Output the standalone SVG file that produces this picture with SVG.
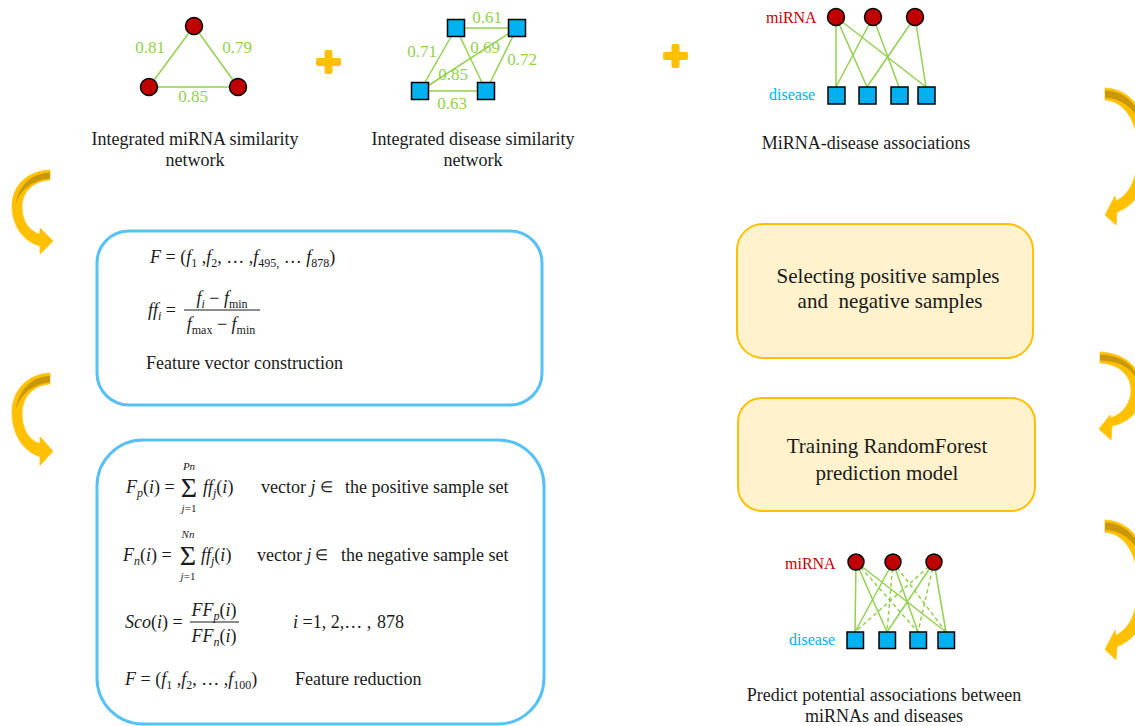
<svg xmlns="http://www.w3.org/2000/svg" width="1135" height="726" viewBox="0 0 1135 726">
<style>
.t{font-family:"Liberation Serif","Times New Roman",serif;font-size:18px;fill:#1a1a1a}
.i{font-style:italic}
.s{font-size:12px}
.sig{font-family:"Liberation Serif","Times New Roman",serif;font-size:28px;fill:#1a1a1a;text-anchor:middle}
.el{font-family:"Liberation Serif","Times New Roman",serif;font-size:15px;fill:#1a1a1a}
.ss{font-family:"Liberation Serif","Times New Roman",serif;font-size:11px;fill:#1a1a1a;font-style:italic;text-anchor:middle}
.lbl{font-family:"Liberation Serif","Times New Roman",serif;font-size:17px;fill:#92D050;text-anchor:middle}
.e{stroke:#92D050;stroke-width:1.5;fill:none}
.d{stroke-dasharray:4 3}
.c{fill:#C00000;stroke:#000;stroke-width:1.5}
.q{fill:#00B0F0;stroke:#000;stroke-width:1.5}
.bb{fill:none;stroke:#56C1F5;stroke-width:3}
.yb{fill:#FFF2CC;stroke:#FFC000;stroke-width:2}
.ar{fill:#FFC000;stroke:#FFC61A;stroke-width:0.8}
.ard{fill:#C9980A}
.mir{font-family:"Liberation Serif","Times New Roman",serif;font-size:16px;fill:#C00000}
.dis{font-family:"Liberation Serif","Times New Roman",serif;font-size:16px;fill:#00B0F0}
.cap{font-family:"Liberation Serif","Times New Roman",serif;font-size:18px;fill:#1a1a1a;text-anchor:middle}
.yt{font-family:"Liberation Serif","Times New Roman",serif;font-size:21px;fill:#1a1a1a;text-anchor:middle}
.plus{fill:#FFC000}
</style>

<!-- connectors -->
<g id="connectors">
  <line class="e" x1="194" y1="26" x2="149" y2="87"/>
  <line class="e" x1="194" y1="26" x2="238" y2="87"/>
  <line class="e" x1="149" y1="87" x2="238" y2="87"/>
  <line class="e" x1="456" y1="28" x2="517" y2="28"/>
  <line class="e" x1="456" y1="28" x2="420" y2="91"/>
  <line class="e" x1="456" y1="28" x2="486" y2="91"/>
  <line class="e" x1="517" y1="28" x2="420" y2="91"/>
  <line class="e" x1="517" y1="28" x2="486" y2="91"/>
  <line class="e" x1="420" y1="91" x2="486" y2="91"/>
  <line class="e" x1="836" y1="17" x2="836" y2="87"/>
  <line class="e" x1="836" y1="17" x2="867" y2="87"/>
  <line class="e" x1="836" y1="17" x2="926" y2="87"/>
  <line class="e" x1="873" y1="17" x2="836" y2="87"/>
  <line class="e" x1="873" y1="17" x2="899" y2="87"/>
  <line class="e" x1="915" y1="17" x2="867" y2="87"/>
  <line class="e" x1="915" y1="17" x2="926" y2="87"/>
  <line class="e" x1="856" y1="562" x2="855" y2="632"/>
  <line class="e" x1="856" y1="562" x2="887" y2="632"/>
  <line class="e" x1="856" y1="562" x2="946" y2="632"/>
  <line class="e" x1="893" y1="562" x2="855" y2="632"/>
  <line class="e" x1="893" y1="562" x2="918" y2="632"/>
  <line class="e" x1="934" y1="562" x2="887" y2="632"/>
  <line class="e" x1="934" y1="562" x2="946" y2="632"/>
  <line class="e d" x1="856" y1="562" x2="918" y2="632"/>
  <line class="e d" x1="893" y1="562" x2="887" y2="632"/>
  <line class="e d" x1="893" y1="562" x2="946" y2="632"/>
  <line class="e d" x1="934" y1="562" x2="855" y2="632"/>
  <line class="e d" x1="934" y1="562" x2="918" y2="632"/>
</g>

<g id="mirna-network">
  <circle class="c" cx="194" cy="26" r="8.5"/>
  <circle class="c" cx="149" cy="87" r="8.5"/>
  <circle class="c" cx="238" cy="87" r="8.5"/>
  <text class="lbl" x="150" y="53">0.81</text>
  <text class="lbl" x="237" y="53">0.79</text>
  <text class="lbl" x="193" y="102">0.85</text>
  <text class="cap" x="195" y="145">Integrated miRNA similarity</text>
  <text class="cap" x="195" y="166">network</text>
</g>

<g id="plus1"><rect class="plus" x="316" y="58" width="25" height="8" rx="2"/><rect class="plus" x="324.5" y="50" width="8" height="24" rx="2"/></g>

<g id="disease-network">
  <rect class="q" x="447.5" y="19.5" width="17" height="17"/>
  <rect class="q" x="508.5" y="19.5" width="17" height="17"/>
  <rect class="q" x="411.5" y="82.5" width="17" height="17"/>
  <rect class="q" x="477.5" y="82.5" width="17" height="17"/>
  <text class="lbl" x="487" y="23">0.61</text>
  <text class="lbl" x="422" y="57">0.71</text>
  <text class="lbl" x="485" y="53">0.69</text>
  <text class="lbl" x="522" y="65">0.72</text>
  <text class="lbl" x="453" y="80">0.85</text>
  <text class="lbl" x="452" y="109">0.63</text>
  <text class="cap" x="473" y="145">Integrated disease similarity</text>
  <text class="cap" x="473" y="166">network</text>
</g>

<g id="plus2"><rect class="plus" x="663" y="52" width="25" height="8" rx="2"/><rect class="plus" x="671.5" y="44" width="8" height="24" rx="2"/></g>

<g id="known-associations">
  <text class="mir" x="766" y="23">miRNA</text>
  <circle class="c" cx="836" cy="17" r="8.5"/>
  <circle class="c" cx="873" cy="17" r="8.5"/>
  <circle class="c" cx="915" cy="17" r="8.5"/>
  <text class="dis" x="769" y="100">disease</text>
  <rect class="q" x="828" y="87" width="17" height="17"/>
  <rect class="q" x="859" y="87" width="17" height="17"/>
  <rect class="q" x="891" y="87" width="17" height="17"/>
  <rect class="q" x="918" y="87" width="17" height="17"/>
  <text class="cap" x="866" y="149">MiRNA-disease associations</text>
</g>

<g id="arrow-left-1">
  <path class="ar" d="M50 170 C27 171 12 186 12 206 C12 226 24 242 40 246 L40 254 L53 241 L40 228 L40 234 C30 232 22 222 22 207 C22 192 33 181 50 180 Z"/>
  <path class="ard" d="M50 172.5 C31 173 17 187 15.5 206 C18 192 31 180 50 178.5 Z"/>
</g>
<g id="arrow-left-2" transform="translate(0,373) scale(1,1.1) translate(0,-170)">
  <path class="ar" d="M50 170 C27 171 12 186 12 206 C12 226 24 242 40 246 L40 254 L53 241 L40 228 L40 234 C30 232 22 222 22 207 C22 192 33 181 50 180 Z"/>
  <path class="ard" d="M50 172.5 C31 173 17 187 15.5 206 C18 192 31 180 50 178.5 Z"/>
</g>
<g id="arrow-right-1" transform="translate(1105,88)">
  <path class="ar" d="M0 0 C28 1 45 28 45 62 C45 95 32 117 12 124 L11 137 L0 127 L10 108 L11 113 C25 106 33 90 33 62 C33 35 20 13 0 12 Z"/>
  <path class="ard" d="M0 2.5 C22 3 37 20 40 46 C34 24 20 11 0 9.5 Z"/>
</g>
<g id="arrow-right-2" transform="translate(1100,352)">
  <path class="ar" d="M0 0 C25 1 42 16 42 38 C42 58 30 70 12 74 L11 88 L-1 77 L10 63 L11 66 C24 61 31 50 31 38 C31 24 20 12 0 11 Z"/>
  <path class="ard" d="M0 2.5 C22 3 36 14 38 30 C32 16 20 9 0 8.5 Z"/>
</g>
<g id="arrow-right-3" transform="translate(1105,520) scale(1,1.02)">
  <path class="ar" d="M0 0 C28 1 45 28 45 62 C45 95 32 117 12 124 L11 137 L0 127 L10 108 L11 113 C25 106 33 90 33 62 C33 35 20 13 0 12 Z"/>
  <path class="ard" d="M0 2.5 C22 3 37 20 40 46 C34 24 20 11 0 9.5 Z"/>
</g>

<g id="feature-construction">
  <rect class="bb" x="97" y="231" width="445" height="174" rx="32"/>
  <text class="t" x="150" y="263"><tspan class="i">F</tspan> = (<tspan class="i">f</tspan><tspan class="s" dy="4">1</tspan><tspan dy="-4"> ,</tspan><tspan class="i">f</tspan><tspan class="s" dy="4">2</tspan><tspan dy="-4">, … ,</tspan><tspan class="i">f</tspan><tspan class="s" dy="4">495,</tspan><tspan dy="-4"> … </tspan><tspan class="i">f</tspan><tspan class="s" dy="4">878</tspan><tspan dy="-4">)</tspan></text>
  <text class="t" x="148" y="316"><tspan class="i">ff</tspan><tspan class="s i" dy="4">i</tspan><tspan dy="-4"> =</tspan></text>
  <text class="t" x="222" y="304" text-anchor="middle"><tspan class="i">f</tspan><tspan class="s i" dy="4">i</tspan><tspan dy="-4"> − </tspan><tspan class="i">f</tspan><tspan class="s" dy="4">min</tspan></text>
  <line x1="184" y1="310" x2="260" y2="310" stroke="#1a1a1a" stroke-width="1"/>
  <text class="t" x="221" y="330" text-anchor="middle"><tspan class="i">f</tspan><tspan class="s" dy="4">max</tspan><tspan dy="-4"> − </tspan><tspan class="i">f</tspan><tspan class="s" dy="4">min</tspan></text>
  <text class="t" x="146" y="369">Feature vector construction</text>
</g>

<g id="feature-reduction">
  <rect class="bb" x="97" y="440" width="447" height="284" rx="46"/>
  <text class="t" x="126" y="493"><tspan class="i">F</tspan><tspan class="s i" dy="4">p</tspan><tspan dy="-4">(<tspan class="i">i</tspan>) =</tspan></text>
  <text class="sig" x="189" y="497">Σ</text>
  <text class="ss" x="189" y="470">Pn</text>
  <text class="ss" x="189" y="512">j<tspan font-style="normal">=1</tspan></text>
  <text class="t" x="203" y="493"><tspan class="i">ff</tspan><tspan class="s i" dy="4">j</tspan><tspan dy="-4">(<tspan class="i">i</tspan>)</tspan></text>
  <text class="t" x="261" y="493">vector <tspan class="i">j</tspan></text>
  <text class="el" x="320" y="492">∈</text>
  <text class="t" x="345" y="493">the positive sample set</text>

  <text class="t" x="123" y="561"><tspan class="i">F</tspan><tspan class="s i" dy="4">n</tspan><tspan dy="-4">(<tspan class="i">i</tspan>) =</tspan></text>
  <text class="sig" x="188" y="565">Σ</text>
  <text class="ss" x="188" y="538">Nn</text>
  <text class="ss" x="188" y="580">j<tspan font-style="normal">=1</tspan></text>
  <text class="t" x="201" y="561"><tspan class="i">ff</tspan><tspan class="s i" dy="4">j</tspan><tspan dy="-4">(<tspan class="i">i</tspan>)</tspan></text>
  <text class="t" x="257" y="561">vector <tspan class="i">j</tspan></text>
  <text class="el" x="315" y="560">∈</text>
  <text class="t" x="341" y="561">the negative sample set</text>

  <text class="t" x="125" y="628"><tspan class="i">Sco</tspan>(<tspan class="i">i</tspan>) =</text>
  <text class="t" x="214" y="616" text-anchor="middle"><tspan class="i">FF</tspan><tspan class="s i" dy="4">p</tspan><tspan dy="-4">(<tspan class="i">i</tspan>)</tspan></text>
  <line x1="190" y1="622" x2="239" y2="622" stroke="#1a1a1a" stroke-width="1"/>
  <text class="t" x="214" y="642" text-anchor="middle"><tspan class="i">FF</tspan><tspan class="s i" dy="4">n</tspan><tspan dy="-4">(<tspan class="i">i</tspan>)</tspan></text>
  <text class="t" x="293" y="628"><tspan class="i">i</tspan> =1, 2,… ,</text>
  <text class="t" x="377" y="628">878</text>

  <text class="t" x="125" y="685"><tspan class="i">F</tspan> = (<tspan class="i">f</tspan><tspan class="s" dy="4">1</tspan><tspan dy="-4"> ,</tspan><tspan class="i">f</tspan><tspan class="s" dy="4">2</tspan><tspan dy="-4">, … ,</tspan><tspan class="i">f</tspan><tspan class="s" dy="4">100</tspan><tspan dy="-4">)</tspan></text>
  <text class="t" x="295" y="685">Feature reduction</text>
</g>

<g id="selecting-samples">
  <rect class="yb" x="737" y="224" width="296" height="134" rx="26"/>
  <text class="yt" x="888" y="283">Selecting positive samples</text>
  <text class="yt" x="890" y="308" xml:space="preserve">and  negative samples</text>
</g>

<g id="training-model">
  <rect class="yb" x="738" y="398" width="297" height="113" rx="24"/>
  <text class="yt" x="887" y="453">Training RandomForest</text>
  <text class="yt" x="887" y="480">prediction model</text>
</g>

<g id="predicted-associations">
  <text class="mir" x="785" y="569">miRNA</text>
  <circle class="c" cx="856" cy="562" r="8"/>
  <circle class="c" cx="893" cy="562" r="8"/>
  <circle class="c" cx="934" cy="562" r="8"/>
  <text class="dis" x="789" y="645">disease</text>
  <rect class="q" x="847" y="632" width="16.5" height="16.5"/>
  <rect class="q" x="879" y="632" width="16.5" height="16.5"/>
  <rect class="q" x="910" y="632" width="16.5" height="16.5"/>
  <rect class="q" x="938" y="632" width="16.5" height="16.5"/>
  <text class="cap" x="884" y="701">Predict potential associations between</text>
  <text class="cap" x="884" y="722">miRNAs and diseases</text>
</g>
</svg>
